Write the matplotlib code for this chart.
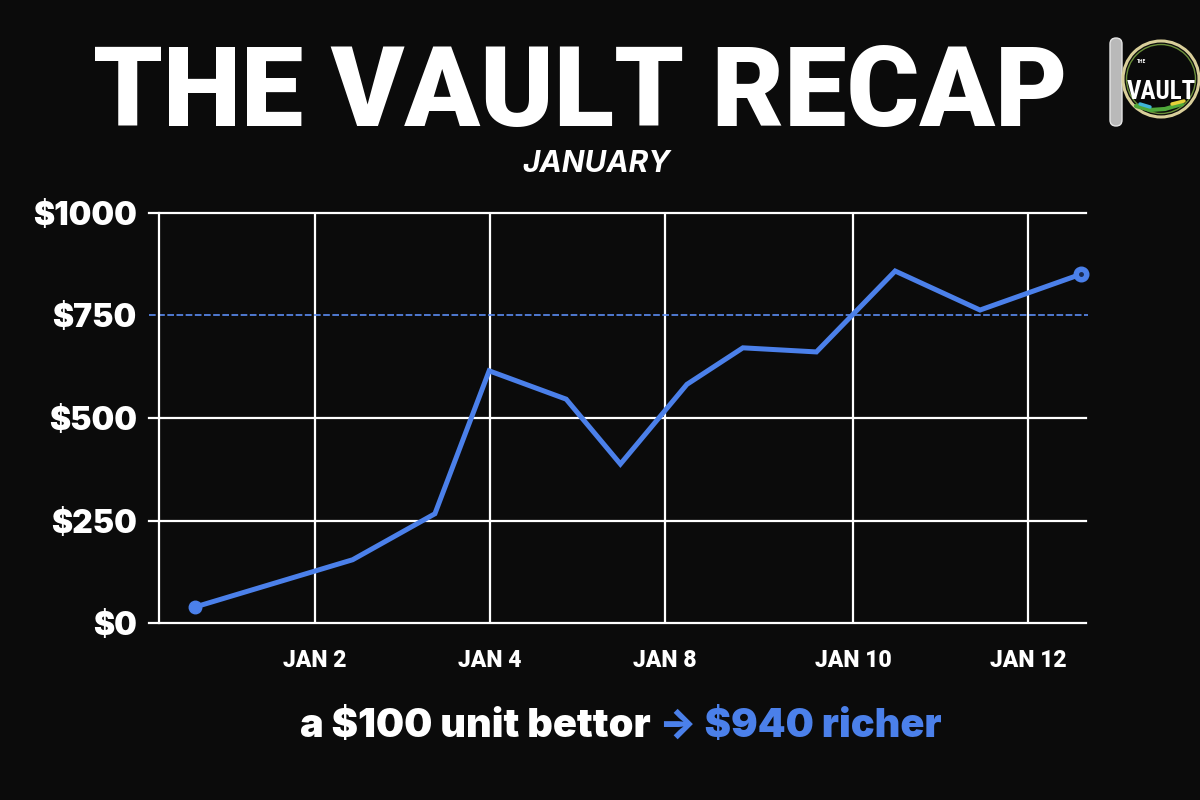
import matplotlib
matplotlib.use("Agg")
import matplotlib.pyplot as plt
from matplotlib.patches import Circle, FancyBboxPatch

# ---- data ----
x_points = [0.63, 2.43, 3.37, 3.99, 4.87, 5.49, 6.25, 6.89, 7.73, 8.63, 9.60, 10.75]
values = [40, 155, 267, 615, 546, 388, 582, 671, 661, 858, 763, 850]
tick_pos = [2.0, 4.0, 6.0, 8.15, 10.15]
tick_labels = ["JAN 2", "JAN 4", "JAN 8", "JAN 10", "JAN 12"]
y_ticks = [0, 250, 500, 750, 1000]
y_labels = ["$0", "$250", "$500", "$750", "$1000"]
ref_level = 750
title = "THE VAULT RECAP"
subtitle = "JANUARY"
caption_white = "a $100 unit bettor "
caption_blue = "\u2192 $940 richer"

BG = "#0b0b0b"
BLUE = "#4b80ea"
W, H = 1200, 800

fig = plt.figure(figsize=(12, 8), dpi=100, facecolor=BG)
ax = fig.add_axes([159/W, 1-623.4/H, (1086-159)/W, (623.4-212.7)/H])
ax.set_facecolor(BG)
ax.set_xlim(0.217, 10.811)
ax.set_ylim(0, 1000)

for s in ["top", "right", "bottom"]:
    ax.spines[s].set_visible(False)
ax.spines["left"].set_color("white")
ax.spines["left"].set_linewidth(1.6)

ytr = ax.get_yaxis_transform()
for yv in y_ticks:
    if yv == ref_level:
        ax.plot([-0.011, 1.002], [yv, yv], transform=ytr, color="#5b8cf2", lw=1.2,
                ls=(0, (4, 1.5)), clip_on=False, zorder=2)
    else:
        ax.plot([-0.011, 1.0], [yv, yv], transform=ytr, color="white", lw=1.6,
                clip_on=False, zorder=2)

ax.set_xticks(tick_pos)
ax.set_xticklabels(tick_labels)
ax.set_yticks(y_ticks)
ax.set_yticklabels(y_labels)
ax.grid(axis="x", color="white", lw=1.6, zorder=1)
ax.tick_params(axis="both", length=0, colors="white")
ax.tick_params(axis="y", pad=16, labelsize=23)
ax.tick_params(axis="x", pad=18.5, labelsize=16.5)
for lab in ax.get_yticklabels():
    lab.set_fontfamily(["Inter", "DejaVu Sans"])
    lab.set_fontweight("black")
for lab in ax.get_xticklabels():
    lab.set_fontfamily(["Roboto", "DejaVu Sans"])
    lab.set_fontweight("black")

ax.plot(x_points, values, color=BLUE, lw=3.6, zorder=4, solid_joinstyle="miter")
ax.plot([x_points[0]], [values[0]], ls="none", marker="o",
        ms=9, color=BLUE, zorder=5, clip_on=False)
ax.plot([x_points[-1]], [values[-1]], ls="none", marker="o",
        ms=10.5, color=BLUE, zorder=5, clip_on=False)
ax.plot([x_points[-1]], [values[-1]], ls="none", marker="o", ms=2.5, color="#1a2a50",
        zorder=6, clip_on=False)


def fit_width(t, target_px):
    fig.canvas.draw()
    w = t.get_window_extent().width
    t.set_fontsize(t.get_fontsize() * target_px / w)


# title
tt = fig.text(580.5/W, 1-126/H, title, ha="center", va="baseline", color="white",
              fontsize=80, fontweight="black", family=["Roboto", "DejaVu Sans"], parse_math=False)
fit_width(tt, 975)

fig.text(596.5/W, 1-172/H, subtitle, ha="center", va="baseline", color="white",
         fontsize=21.5, fontweight="bold", style="italic", family=["Inter", "DejaVu Sans"],
         parse_math=False)

# caption
c1 = fig.text(300/W, 1-736.7/H, caption_white, ha="left", va="baseline", color="white",
              fontsize=26, fontweight="black", family=["Inter", "DejaVu Sans"], parse_math=False)
c2 = fig.text(0.5, 1-736.7/H, caption_blue, ha="left", va="baseline", color=BLUE,
              fontsize=26, fontweight="black", family=["Inter", "DejaVu Sans"], parse_math=False)
fig.canvas.draw()
w1 = c1.get_window_extent().width
w2 = c2.get_window_extent().width
scale = 641 / (w1 + w2)
c1.set_fontsize(26 * scale)
c2.set_fontsize(26 * scale)
fig.canvas.draw()
bb = c1.get_window_extent()
c2.set_x(bb.x1 / W)

# logo (top right)
logo_ax = fig.add_axes([0, 0, 1, 1], facecolor="none")
logo_ax.set_xlim(0, W)
logo_ax.set_ylim(H, 0)
logo_ax.axis("off")
logo_ax.add_patch(FancyBboxPatch((1110, 38), 12, 88, boxstyle="round,pad=0,rounding_size=6",
                                 fc="#b9b9b9", ec="#e5e5e5", lw=1.0))
logo_ax.add_patch(Circle((1161, 79), 38, fc="#0a0a0a", ec="#d9cf9a", lw=2.2))
logo_ax.add_patch(Circle((1161, 79), 34.5, fc="none", ec="#6b8f3a", lw=1.0))
logo_ax.text(1161, 99, "VAULT", ha="center", va="baseline", color="white",
             fontsize=18, fontweight="bold", family=["Roboto Condensed", "DejaVu Sans"])
logo_ax.text(1141, 63, "THE", ha="center", va="baseline", color="white",
             fontsize=4, fontweight="bold", family=["Roboto Condensed", "DejaVu Sans"])
logo_ax.plot([1136, 1150, 1165, 1182], [106, 110, 109, 104], color="#4fa83a", lw=3,
             solid_capstyle="round")
logo_ax.plot([1140, 1150], [104, 107], color="#3fb6d8", lw=2.5, solid_capstyle="round")
logo_ax.plot([1172, 1184], [104, 101], color="#e6d23a", lw=2.5, solid_capstyle="round")

fig.savefig("out.png", dpi=100, facecolor=BG)
